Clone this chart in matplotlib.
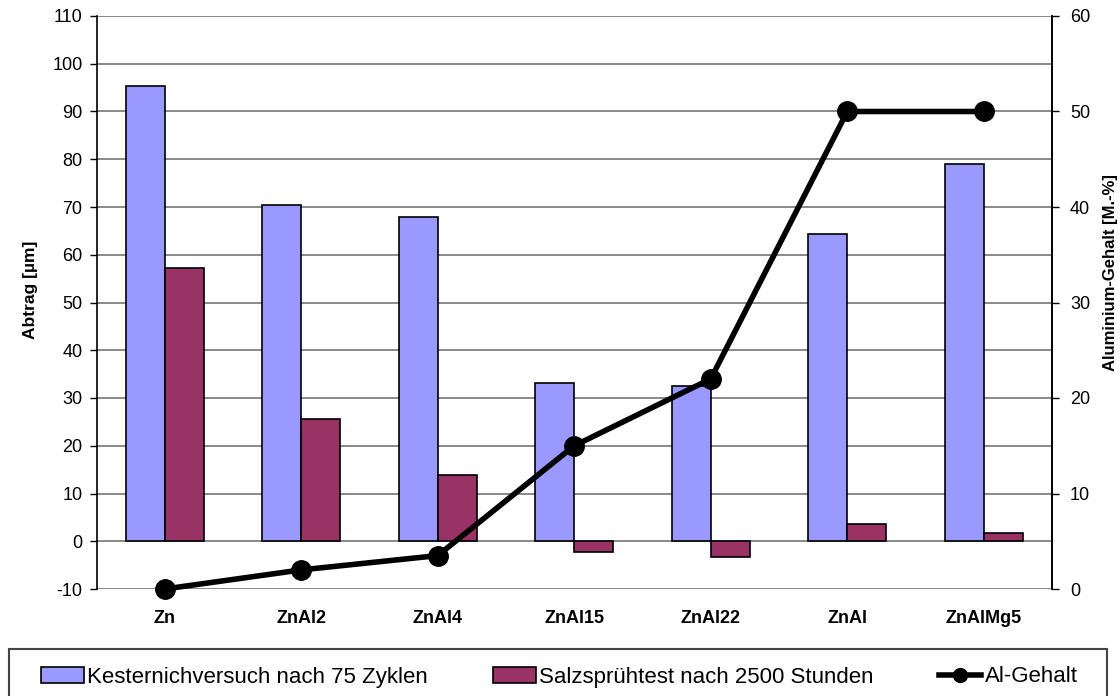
import matplotlib
matplotlib.use("Agg")
import matplotlib.pyplot as plt
import numpy as np
from matplotlib.patches import Rectangle, Patch
from matplotlib.lines import Line2D

plt.rcParams['font.family'] = ['Liberation Sans', 'DejaVu Sans']
plt.rcParams['axes.unicode_minus'] = False

categories = ["Zn", "ZnAl2", "ZnAl4", "ZnAl15", "ZnAl22", "ZnAl", "ZnAlMg5"]
kesternich = [95.4, 70.5, 67.9, 33.2, 32.5, 64.3, 79.0]
salzspruehtest = [57.2, 25.6, 13.8, -2.3, -3.4, 3.7, 1.8]
al_gehalt = [0, 2, 3.5, 15, 22, 50, 50]

left_ticks = list(range(-10, 111, 10))
right_ticks = list(range(0, 61, 10))

fig = plt.figure(figsize=(11.2, 6.96), dpi=100)
ax = fig.add_axes([96.5/1120, 1-589/696, (1052-96.5)/1120, (589-16)/696])

x = np.arange(len(categories))
w = 0.2857
ax.bar(x - w/2, kesternich, w, color='#9999FF', edgecolor='black', linewidth=1.2,
       zorder=3, label='Kesternichversuch nach 75 Zyklen')
ax.bar(x + w/2, salzspruehtest, w, color='#993366', edgecolor='black', linewidth=1.2,
       zorder=3, label='Salzsprühtest nach 2500 Stunden')

ax.set_xlim(-0.5, len(categories) - 0.5)
ax.set_ylim(-10, 110)
ax.set_yticks(left_ticks)
ax.yaxis.grid(True, color='#6a6a6a', linewidth=1.1, zorder=0)
ax.set_axisbelow(True)
ax.set_xticks(x)
ax.set_xticklabels(categories, fontweight='bold', fontsize=13)
ax.tick_params(axis='x', length=0, pad=15)
ax.tick_params(axis='y', direction='out', length=5, width=1, labelsize=13, pad=5)
ax.set_ylabel('Abtrag [µm]', fontweight='bold', fontsize=12.5)
ax.yaxis.set_label_coords((31 - 96.5) / 955.5, (589 - 290) / 573)
ax.yaxis.label.set_va('center')
for s in ['top', 'bottom']:
    ax.spines[s].set_visible(False)
ax.spines['left'].set_linewidth(1.2)
ax.spines['right'].set_linewidth(1.2)

ax2 = ax.twinx()
ax2.set_ylim(0, 60)
ax2.set_yticks(right_ticks)
ax2.plot(x, al_gehalt, color='black', linewidth=4, marker='o', markersize=14,
         zorder=5, label='Al-Gehalt', clip_on=False)
ax2.tick_params(axis='y', direction='out', length=5, width=1, labelsize=13, pad=8)
ax2.set_ylabel('Aluminium-Gehalt [M.-%]', fontweight='bold', fontsize=12)
ax2.yaxis.set_label_coords((1110 - 96.5) / 955.5, (589 - 273) / 573)
ax2.yaxis.label.set_va('center')
for s in ['top', 'bottom', 'left']:
    ax2.spines[s].set_visible(False)
ax2.spines['right'].set_linewidth(1.2)

# legend frame (extends below figure edge as in reference)
fig.patches.append(Rectangle((9/1120, -0.1), (1107-9)/1120, 0.1 + 1 - 649/696,
                             transform=fig.transFigure, fill=False,
                             edgecolor='#444444', linewidth=1.5))
handles = [Patch(facecolor='#9999FF', edgecolor='black', linewidth=1.2),
           Patch(facecolor='#993366', edgecolor='black', linewidth=1.2),
           Line2D([0], [0], color='black', linewidth=4, marker='o', markersize=10)]
labels = ['Kesternichversuch nach 75 Zyklen', 'Salzsprühtest nach 2500 Stunden', 'Al-Gehalt']
fig.legend(handles, labels, ncol=3, loc='center', bbox_to_anchor=(559.5/1120, 1 - 677/696),
           frameon=False, fontsize=16, handlelength=1.9, handleheight=0.7,
           handletextpad=0.15, columnspacing=2.95)

fig.savefig('out.png', dpi=100)
